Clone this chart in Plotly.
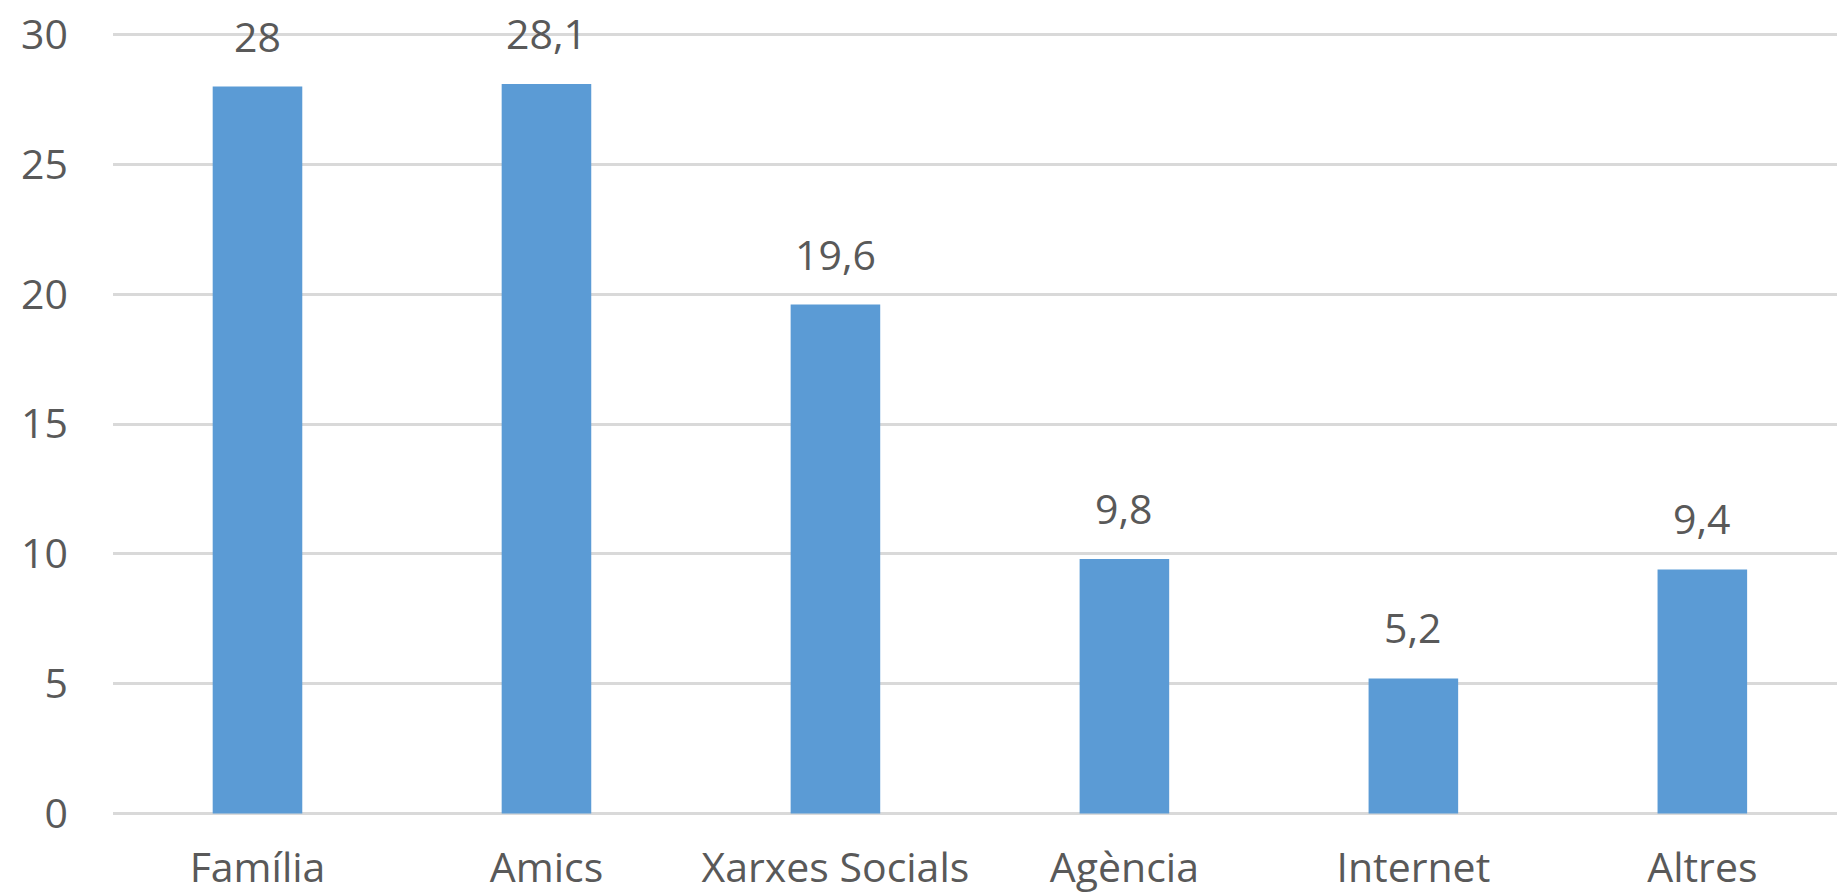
import plotly.graph_objects as go

categories = ["Família", "Amics", "Xarxes Socials", "Agència", "Internet", "Altres"]
values = [28, 28.1, 19.6, 9.8, 5.2, 9.4]
value_labels = ["28", "28,1", "19,6", "9,8", "5,2", "9,4"]
y_ticks = [0, 5, 10, 15, 20, 25, 30]

FONT = "Open Sans"
TXT = "#595959"
FS = 41

fig = go.Figure(go.Bar(x=categories, y=values, marker=dict(color="#5B9BD5", line=dict(width=0)),
                       hoverinfo="skip"))

for c, v, t in zip(categories, values, value_labels):
    fig.add_annotation(x=c, y=v, text=t, showarrow=False, yanchor="bottom",
                       yshift=21, font=dict(family=FONT, size=FS, color=TXT))

fig.update_layout(
    width=1837, height=893,
    margin=dict(l=113, r=0, t=32, b=77),
    paper_bgcolor="white", plot_bgcolor="white",
    bargap=0.69, showlegend=False,
    font=dict(family=FONT, size=FS, color=TXT),
)
fig.update_xaxes(range=[-0.5, 5.466], showgrid=False, showline=False, zeroline=False, automargin=False,
                 ticks="", ticklabelstandoff=24, tickfont=dict(family=FONT, size=FS, color=TXT))
fig.update_yaxes(range=[-0.1, 30.1], tickvals=y_ticks, showgrid=True, gridcolor="#D9D9D9", gridwidth=3,
                 zeroline=False, showline=False, ticks="", ticklabelstandoff=44, automargin=False,
                 tickfont=dict(family=FONT, size=FS, color=TXT))
fig.write_html("out.html", config={"displayModeBar": False},
               post_script="document.body.style.margin='0';document.body.style.overflow='hidden';")
